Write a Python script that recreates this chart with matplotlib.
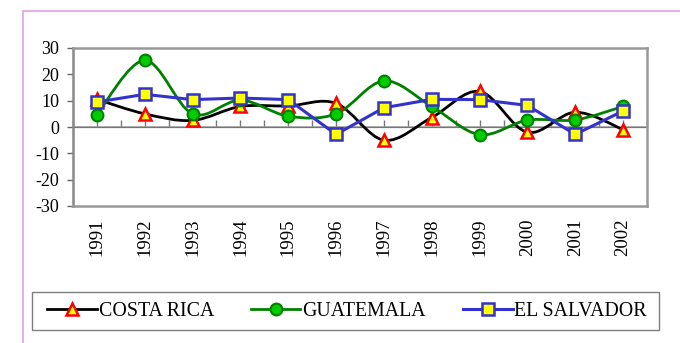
import numpy as np
import matplotlib
matplotlib.use('Agg')
import matplotlib.pyplot as plt
from matplotlib.path import Path
from matplotlib.patches import PathPatch, Rectangle
from matplotlib.lines import Line2D

plt.rcParams['font.family'] = ['Liberation Serif', 'DejaVu Serif']
plt.rcParams['axes.unicode_minus'] = False

# data
years = ['1991', '1992', '1993', '1994', '1995', '1996',
         '1997', '1998', '1999', '2000', '2001', '2002']
costa_rica = [10.5, 5, 2.5, 7.8, 8, 9, -5, 3.6, 13.5, -2, 5.6, -1]
guatemala = [4.7, 25.3, 5, 10.2, 4.1, 5, 17.5, 7.8, -2.9, 2.6, 2.7, 7.8]
el_salvador = [9.5, 12.4, 10.4, 11, 10.4, -2.8, 7.3, 10.5, 10.4, 8.2, -2.8, 6.1]
y_ticks = [-30, -20, -10, 0, 10, 20, 30]


def smooth_path(xs, ys):
    # Excel-style smoothed line: cubic bezier through each point
    pts = np.column_stack([xs, ys]).astype(float)
    ext = np.vstack([pts[0], pts, pts[-1]])
    verts = [pts[0]]
    codes = [Path.MOVETO]
    for i in range(len(pts) - 1):
        p0, p1, p2, p3 = ext[i], ext[i + 1], ext[i + 2], ext[i + 3]
        verts += [p1 + (p2 - p0) / 6, p2 - (p3 - p1) / 6, p2]
        codes += [Path.CURVE4] * 3
    return Path(verts, codes)


fig = plt.figure(figsize=(6.8, 3.43), dpi=100)
ax = fig.add_axes([73 / 680, 1 - 206 / 343, 574 / 680, 158 / 343])

x = np.arange(len(years))

ax.axhline(0, color='#999999', lw=1.1, zorder=1)

# costa rica: smoothed black line, red/yellow triangles
ax.add_patch(PathPatch(smooth_path(x, costa_rica), fc='none', ec='black',
                       lw=2.0, joinstyle='round', capstyle='round', zorder=3))
ax.plot(x, costa_rica, ls='none', marker='^', ms=9, mfc='#ffff00',
        mec='#ff0000', mew=1.8, zorder=6)

# guatemala: smoothed green line, green circles
ax.add_patch(PathPatch(smooth_path(x, guatemala), fc='none', ec='#008000',
                       lw=2.0, joinstyle='round', capstyle='round', zorder=4))
ax.plot(x, guatemala, ls='none', marker='o', ms=8.5, mfc='#00cc00',
        mec='#008000', mew=1.5, zorder=7)

# el salvador: straight blue line, yellow squares
ax.plot(x, el_salvador, color='#3333cc', lw=2.2, marker='s', ms=8.5,
        mfc='#ffff00', mec='#3333cc', mew=1.8, zorder=8)

ax.set_xlim(-0.5, len(years) - 0.5)
ax.set_ylim(-30, 30)
ax.set_yticks(y_ticks)
ax.set_yticklabels([str(v) for v in y_ticks], fontsize=13)
ax.tick_params(axis='y', direction='out', length=4, width=1,
               color='#666666', pad=6)
ax.set_xticks(x)
ax.set_xticklabels(years, rotation=90, fontsize=13.5, va='top')
ax.tick_params(axis='x', length=0, pad=9)

for s in ax.spines.values():
    s.set_color('#999999')
    s.set_linewidth(1.8)
ax.spines['left'].set_color('#888888')

# category ticks sitting on the zero line
sec = ax.secondary_xaxis(0.5)
sec.set_xticks(np.arange(-0.5, len(years), 0.5))
sec.set_xticklabels([])
sec.tick_params(direction='out', length=5, width=1, color='#777777')
sec.spines['bottom'].set_visible(False)

# legend with separate frame
handles = [
    Line2D([], [], color='black', lw=2.0, marker='^', ms=9, mfc='#ffff00',
           mec='#ff0000', mew=1.8),
    Line2D([], [], color='#008000', lw=2.0, marker='o', ms=8.5,
           mfc='#00cc00', mec='#008000', mew=1.5),
    Line2D([], [], color='#3333cc', lw=2.2, marker='s', ms=8.5,
           mfc='#ffff00', mec='#3333cc', mew=1.8),
]
labels = ['COSTA RICA', 'GUATEMALA', 'EL SALVADOR']
fig.legend(handles, labels, loc='center', ncol=3, mode='expand',
           bbox_to_anchor=(47 / 680, 1 - 311 / 343, 600 / 680, 0),
           frameon=False, fontsize=14.3, handlelength=2.5,
           handletextpad=0.1, borderpad=0, borderaxespad=0)
fig.patches.append(Rectangle((31.5 / 680, 1 - 330 / 343), 627 / 680,
                             38.5 / 343, transform=fig.transFigure,
                             fill=False, ec='#7f7f7f', lw=1))

# pink outer border
fig.patches.append(Rectangle((22.5 / 680, -0.2), 1.0, 1.2 - 11 / 343,
                             transform=fig.transFigure, fill=False,
                             ec='#e4a0e4', lw=1.2))

fig.savefig('out.png', dpi=100)
